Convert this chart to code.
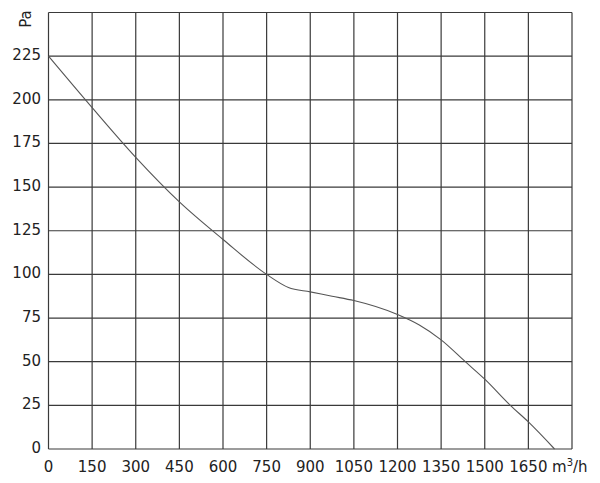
<!DOCTYPE html>
<html>
<head>
<meta charset="utf-8">
<script src="https://cdn.jsdelivr.net/npm/d3@7"></script>
<style>
  body { margin: 0; background: #fff; }
  svg text { font-family: "DejaVu Sans", Verdana, sans-serif; fill: #222; }
</style>
</head>
<body>
<div id="chart"></div>
<script>
// airflow (m3/h) vs pressure (Pa)
const flow = [0, 150, 300, 450, 600, 750, 825, 900, 975, 1050, 1200, 1275, 1350, 1433, 1500, 1588, 1650, 1740];
const pressure = [225, 195.5, 167, 141.5, 120, 100, 92.5, 90, 87.5, 85, 77, 71, 62.5, 50, 40, 25, 15.5, 0];
const xTicks = [0, 150, 300, 450, 600, 750, 900, 1050, 1200, 1350, 1500, 1650];
const yTicks = [0, 25, 50, 75, 100, 125, 150, 175, 200, 225];

const width = 600;
const height = 483;
const margin = { top: 12.5, right: 28, bottom: 34, left: 48.5 };

const svg = d3
  .select("#chart")
  .append("svg")
  .attr("width", width)
  .attr("height", height);

const x = d3
  .scaleLinear()
  .domain([0, 1800])
  .range([margin.left, width - margin.right]);

const y = d3
  .scaleLinear()
  .domain([0, 250])
  .range([height - margin.bottom, margin.top]);

// grid
const grid = svg.append("g").attr("stroke", "#3a3a3a").attr("stroke-width", 1.2);

grid
  .selectAll("line.v")
  .data(d3.range(0, 1801, 150))
  .join("line")
  .attr("class", "v")
  .attr("x1", (d) => x(d))
  .attr("x2", (d) => x(d))
  .attr("y1", y(0))
  .attr("y2", y(250));

grid
  .selectAll("line.h")
  .data(d3.range(0, 251, 25))
  .join("line")
  .attr("class", "h")
  .attr("x1", x(0))
  .attr("x2", x(1800))
  .attr("y1", (d) => y(d))
  .attr("y2", (d) => y(d));

// tick labels
svg
  .append("g")
  .attr("text-anchor", "end")
  .style("font-size", "15px")
  .selectAll("text")
  .data(yTicks)
  .join("text")
  .attr("x", 41)
  .attr("y", (d) => y(d) + 4)
  .text((d) => d);

svg
  .append("g")
  .attr("text-anchor", "middle")
  .style("font-size", "15px")
  .selectAll("text")
  .data(xTicks)
  .join("text")
  .attr("x", (d) => x(d))
  .attr("y", 471.5)
  .text((d) => d);

// units
const unit = svg
  .append("text")
  .attr("x", 552)
  .attr("y", 471.5)
  .style("font-size", "15px");
unit.append("tspan").text("m");
unit.append("tspan").attr("dy", -6).style("font-size", "10px").text("3");
unit.append("tspan").attr("dy", 6).text("/h");

svg
  .append("text")
  .attr("transform", "translate(31,19) rotate(-90)")
  .attr("text-anchor", "middle")
  .style("font-size", "15px")
  .text("Pa");

// curve
const line = d3
  .line()
  .x((d, i) => x(flow[i]))
  .y((d) => y(d))
  .curve(d3.curveMonotoneX);

svg
  .append("path")
  .datum(pressure)
  .attr("fill", "none")
  .attr("stroke", "#555")
  .attr("stroke-width", 1.1)
  .attr("d", line);
</script>
</body>
</html>
